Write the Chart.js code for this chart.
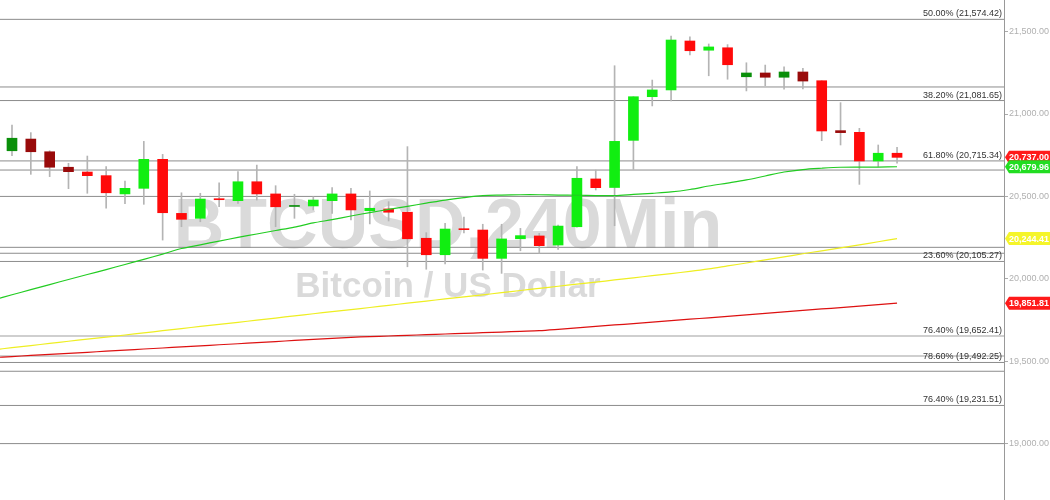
<!DOCTYPE html>
<html><head><meta charset="utf-8">
<script src="https://cdn.jsdelivr.net/npm/chart.js@4.4.0/dist/chart.umd.min.js"></script>
<style>html,body{margin:0;padding:0;background:#fff;}canvas{display:block;}</style>
</head><body>
<canvas id="c" width="1050" height="500"></canvas>
<script>
// ---- Data (BTCUSD 240 min candles) ----
const opens  = [20777,20848,20771,20677,20648,20626,20515,20549,20725,20397,20367,20486,20474,20589,20515,20439,20442,20474,20515,20413,20424,20404,20246,20146,20304,20296,20124,20243,20260,20205,20316,20606,20554,20840,21105,21146,21443,21387,21402,21226,21249,21223,21255,21202,20899,20889,20715,20762];
const highs  = [20933,20887,20777,20701,20745,20681,20593,20834,20755,20522,20519,20583,20650,20690,20565,20513,20498,20553,20549,20533,20468,20802,20280,20337,20375,20331,20331,20306,20276,20326,20681,20660,21293,21105,21206,21473,21469,21425,21421,21311,21297,21287,21277,21202,21069,20913,20812,20798];
const lows   = [20747,20634,20620,20547,20519,20428,20456,20452,20235,20316,20346,20437,20458,20478,20316,20367,20418,20397,20357,20333,20351,20073,20058,20090,20278,20053,20033,20170,20155,20179,20314,20539,20322,20664,21049,21079,21358,21232,21211,21140,21172,21150,21152,20838,20812,20573,20681,20701];
const closes = [20853,20771,20677,20650,20626,20522,20549,20725,20401,20361,20484,20480,20589,20515,20437,20443,20478,20515,20418,20428,20404,20243,20146,20302,20298,20124,20242,20262,20201,20320,20610,20553,20834,21105,21146,21449,21384,21407,21299,21249,21223,21255,21200,20897,20887,20715,20762,20737];
const dimmedCandles = [0,1,2,3,15,39,40,41,42,44];

// moving averages, first value belongs to the candle before index 0
const maStartIndex = -1;
const maGreen  = [19871,19903,19934,19965,19996,20026,20056,20087,20118,20150,20184,20206,20229,20251,20272,20293,20314,20339,20359,20381,20402,20421,20440,20459,20478,20493,20505,20508,20510,20510,20508,20507,20505,20505,20512,20519,20527,20542,20563,20581,20600,20624,20648,20663,20671,20677,20678,20678,20680];
const maYellow = [19569,19582,19595,19608,19621,19634,19646,19659,19672,19685,19698,19711,19723,19736,19749,19762,19775,19788,19801,19813,19826,19839,19852,19865,19878,19890,19903,19916,19929,19942,19955,19968,19980,19993,20006,20019,20032,20045,20060,20078,20096,20115,20133,20152,20170,20188,20206,20225,20244];
const maRed    = [19522,19528,19535,19541,19548,19554,19561,19567,19574,19580,19587,19593,19600,19606,19613,19619,19626,19632,19639,19645,19649,19653,19657,19661,19665,19669,19673,19677,19681,19685,19693,19702,19711,19720,19728,19737,19746,19755,19763,19772,19781,19790,19799,19808,19817,19825,19834,19843,19852];

// Fibonacci levels
const fibPercents = ['50.00%','38.20%','61.80%','23.60%','76.40%','78.60%','76.40%'];
const fibValues   = [21574.42,21081.65,20715.34,20105.27,19652.41,19492.25,19231.51];
const fibLight    = [false,false,false,false,true,false,false];
// other horizontal levels
const levelValues = [21164,20660,20500,20191,20155,19532,19439,19000];
const levelLight  = [false,false,false,false,false,true,false,false];

const tickValues = [19000,19500,20000,20500,21000,21500];
const tagValues  = [20737.00,20679.96,20244.41,19851.81];
const symbolText = 'BTCUSD,240Min';
const nameText   = 'Bitcoin / US Dollar';

// ---- Styles ----
const C_UP='#11ee11', C_DN='#ff0a0a', C_UP_D='#0a8f0a', C_DN_D='#990a0a';
const tagColors = ['#ff1a1a','#22dd22','#f5f52a','#ff1a1a'];
const fmt = v => v.toLocaleString('en-US',{minimumFractionDigits:2,maximumFractionDigits:2});

const bodyColors = opens.map((o,i)=>{
  const up = closes[i] >= o; const d = dimmedCandles.includes(i);
  return up ? (d?C_UP_D:C_UP) : (d?C_DN_D:C_DN);
});

const datasets = [];
fibValues.forEach((v,i)=>datasets.push({type:'line',data:[{x:-5,y:v},{x:80,y:v}],borderColor:fibLight[i]?'#cfcfcf':'#8c8c8c',borderWidth:fibLight[i]?2:1,pointRadius:0,order:20}));
levelValues.forEach((v,i)=>datasets.push({type:'line',data:[{x:-5,y:v},{x:80,y:v}],borderColor:levelLight[i]?'#cfcfcf':'#8c8c8c',borderWidth:levelLight[i]?2:1,pointRadius:0,order:20}));
datasets.push({type:'bar',data:highs.map((h,i)=>({x:i,y:[lows[i],h]})),backgroundColor:'#b4b4b4',barThickness:1,grouped:false,order:6});
datasets.push({type:'bar',data:opens.map((o,i)=>({x:i,y:[o,closes[i]]})),backgroundColor:bodyColors,barThickness:10,minBarLength:1,grouped:false,order:5});
const maPts = arr => arr.map((v,k)=>({x:maStartIndex+k,y:v}));
datasets.push({type:'line',data:maPts(maRed),borderColor:'#dd1111',borderWidth:1.2,pointRadius:0,tension:0.3,order:2});
datasets.push({type:'line',data:maPts(maYellow),borderColor:'#eeee22',borderWidth:1.2,pointRadius:0,tension:0.3,order:2});
datasets.push({type:'line',data:maPts(maGreen),borderColor:'#22cc22',borderWidth:1.2,pointRadius:0,tension:0.3,order:1});

const FONT='"Liberation Sans", Arial, sans-serif';

const deco = {
  id:'deco',
  beforeDatasetsDraw(chart){
    const ctx=chart.ctx; ctx.save();
    ctx.fillStyle='#dadada'; ctx.textAlign='center'; ctx.textBaseline='alphabetic';
    ctx.font='bold 70px '+FONT; ctx.fillText(symbolText,448,248);
    ctx.font='bold 35px '+FONT; ctx.fillText(nameText,448,297);
    ctx.restore();
  },
  afterDatasetsDraw(chart){
    const ctx=chart.ctx, y=chart.scales.y, a=chart.chartArea; ctx.save();
    ctx.font='9px '+FONT; ctx.fillStyle='#333'; ctx.textAlign='right'; ctx.textBaseline='alphabetic';
    fibValues.forEach((v,i)=>{ ctx.fillText(fibPercents[i]+' ('+fmt(v)+')', a.right-2, y.getPixelForValue(v)-3); });
    ctx.restore();
  },
  afterDraw(chart){
    const ctx=chart.ctx, y=chart.scales.y, a=chart.chartArea; ctx.save();
    ctx.font='bold 9px '+FONT; ctx.textBaseline='middle'; ctx.textAlign='left';
    tagValues.forEach((v,i)=>{
      const py=y.getPixelForValue(v), h=13, x0=a.right+1, x1=chart.width;
      ctx.fillStyle=tagColors[i];
      ctx.beginPath();
      ctx.moveTo(x0,py); ctx.lineTo(x0+4,py-h/2); ctx.lineTo(x1,py-h/2); ctx.lineTo(x1,py+h/2); ctx.lineTo(x0+4,py+h/2); ctx.closePath(); ctx.fill();
      ctx.fillStyle='#fff'; ctx.fillText(fmt(v), x0+4, py+0.5);
    });
    ctx.restore();
  }
};

new Chart(document.getElementById('c'),{
  data:{datasets},
  options:{
    responsive:false, animation:false, devicePixelRatio:1,
    layout:{padding:0},
    plugins:{legend:{display:false},tooltip:{enabled:false}},
    scales:{
      x:{type:'linear',display:false,offset:false,min:-0.637,max:52.68,ticks:{display:false},grid:{display:false}},
      y:{type:'linear',position:'right',min:18657.8,max:21691.8,
        afterBuildTicks:s=>{s.ticks=tickValues.map(v=>({value:v}));},
        afterFit:s=>{s.width=46;s.paddingTop=0;s.paddingBottom=0;},
        grid:{drawOnChartArea:false,drawTicks:true,tickLength:4,color:'#aaa'},
        border:{display:true,color:'#999',width:1},
        ticks:{color:'#b0b0b0',padding:1,font:{family:FONT,size:9},callback:v=>fmt(v)}
      }
    }
  },
  plugins:[deco]
});
</script>
</body></html>
